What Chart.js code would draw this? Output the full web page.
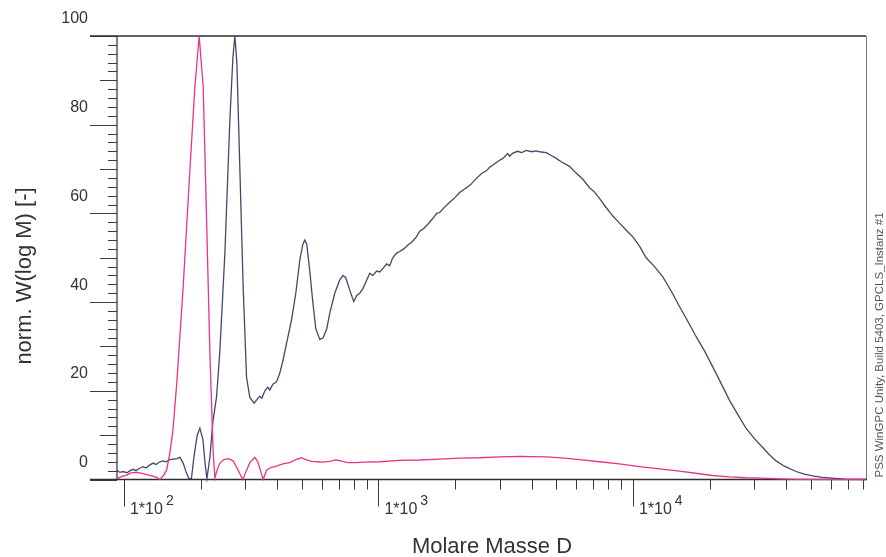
<!DOCTYPE html>
<html>
<head>
<meta charset="utf-8"/>
<title>Molmassenverteilung</title>
<script src="https://cdn.jsdelivr.net/npm/chart.js"></script>
<style>
  html, body { margin: 0; padding: 0; background: #fff; }
  canvas { display: block; }
</style>
</head>
<body>
<canvas id="mwdChart" width="886" height="557"></canvas>
<script>
// sample trace: molar mass (D) and normalised W(log M)
const sampleMass = [93.9, 96.4, 99.4, 102.8, 105.6, 108.8, 111.5, 115.6, 119.1, 122.0, 126.5, 130.3, 133.5, 138.5, 142.6, 146.2, 151.5, 156.1, 161.4, 165.9,
  170.9, 175.9, 180.0, 184.1, 188.3, 194.0, 198.8, 204.3, 208.9, 211.8, 217.6, 223.6, 231.2, 238.2, 249.2, 260.7, 267.9, 272.8, 277.8, 285.4,
  294.0, 303.2, 312.4, 324.8, 332.8, 341.9, 348.2, 357.8, 367.6, 374.3, 384.6, 397.7, 409.7, 422.1, 436.5, 455.4, 473.5, 490.9, 504.4, 513.6,
  523.0, 537.4, 552.2, 567.3, 588.2, 606.0, 626.6, 643.9, 673.6, 704.7, 726.1, 744.0, 771.4, 799.9, 821.8, 844.4, 870.0, 891.5, 924.3, 949.7,
  984.8, 1012, 1042, 1078, 1107, 1138, 1176, 1212, 1257, 1303, 1351, 1410, 1453, 1506, 1561, 1638, 1694, 1740, 1804, 1905,
  1993, 2085, 2216, 2304, 2426, 2545, 2655, 2735, 2862, 2994, 3085, 3219, 3277, 3377, 3523, 3653, 3812, 3999, 4146, 4298,
  4567, 4791, 4999, 5244, 5638, 5952, 6357, 6753, 7065, 7392, 7804, 8338, 8859, 9413, 9964, 10615, 11277, 12160, 13109, 14178,
  15242, 16385, 17727, 19107, 20594, 22281, 23942, 25740, 27860, 30026, 32361, 34385, 36528, 39369, 43770, 47193, 50862, 55524, 60782, 67718,
  81886];
const sampleW = [2.1, 1.6, 1.8, 1.5, 2.0, 2.3, 2.0, 2.6, 2.9, 2.6, 3.3, 3.7, 3.4, 4.0, 4.2, 4.0, 4.5, 4.6, 4.7, 5.0,
  3.7, 1.5, 0.2, 0.2, 5.0, 10.0, 11.6, 9.0, 3.0, 0.2, 5.0, 13.0, 18.7, 29, 51, 81, 95, 100, 94, 70,
  43.5, 23, 18.5, 17.2, 18.0, 18.8, 18.3, 20.0, 20.8, 20.2, 21.5, 22.0, 24.0, 27.0, 31.0, 36.0, 42.0, 49.5, 53, 54,
  53, 47, 40, 34, 31.6, 31.9, 34, 37.5, 42, 45, 46, 45.5, 42.7, 40.1, 41.5, 42, 43.1, 44.5, 46.5, 46.0,
  47.0, 46.8, 47.6, 48.6, 48.2, 50.0, 51.0, 51.4, 52.0, 52.8, 53.5, 54.7, 56.0, 56.6, 57.5, 58.9, 60.0, 60.2, 61.2, 62.5,
  63.5, 64.7, 65.8, 66.5, 67.9, 69.0, 69.6, 70.4, 71.2, 72.0, 72.4, 73.5, 72.9, 73.6, 74.0, 73.7, 74.2, 73.9, 74.1, 73.9,
  73.7, 73.0, 72.4, 71.6, 70.6, 69.2, 67.7, 65.8, 64.8, 63.4, 61.5, 59.4, 57.8, 56.2, 54.8, 52.6, 50.0, 48.0, 45.7, 42.4,
  39.0, 35.8, 32.2, 29.0, 25.4, 21.5, 17.9, 14.8, 11.5, 9.2, 7.2, 5.6, 4.2, 3.0, 1.8, 1.2, 0.8, 0.5, 0.3, 0.1,
  0.0];

// second trace (magenta)
const refMass = [93.9, 98.2, 102.5, 106.5, 112.2, 117.7, 122.8, 128.8, 134.4, 138.5, 142.6, 147.1, 151.5, 155.7, 161.4, 170.9, 181.6, 190.0, 197.5, 204.8,
  211.2, 217.6, 224.2, 227.7, 231.8, 238.2, 247.0, 256.8, 268.6, 281.0, 293.2, 302.7, 312.4, 326.8, 335.8, 341.9, 352.3, 363.3, 377.7, 397.7,
  421.0, 448.4, 473.5, 498.5, 518.3, 547.2, 577.7, 604.4, 643.9, 679.7, 711.1, 757.5, 819.6, 883.5, 1012, 1212, 1453, 1740, 2085, 2499,
  2994, 3588, 4567, 5388, 6170, 7392, 8859, 10615, 12724, 15242, 18263, 20539, 23942, 27860, 32273, 37635, 45093, 81886];
const refW = [0.2, 0.7, 1.0, 1.5, 1.6, 1.4, 1.1, 0.8, 0.5, 0.0, 0.8, 2.1, 6.0, 11.0, 22.0, 43.5, 69.8, 88.6, 100, 88.6,
  58.5, 28.5, 6.0, 0.3, 2.0, 3.7, 4.5, 4.7, 4.2, 2.1, 0.0, 2.0, 3.8, 5.0, 4.0, 2.5, 0.0, 2.1, 2.7, 3.0,
  3.5, 3.8, 4.5, 4.9, 4.5, 4.1, 4.0, 3.9, 4.1, 4.4, 4.2, 3.8, 3.8, 3.9, 4.0, 4.3, 4.4, 4.6, 4.8, 4.9,
  5.1, 5.2, 5.1, 4.8, 4.5, 4.0, 3.5, 2.9, 2.4, 1.9, 1.3, 0.9, 0.6, 0.4, 0.3, 0.15, 0.05, 0];

const yTicks = [0, 20, 40, 60, 80, 100];
const xDecades = [2, 3, 4];          // labelled ticks 1*10^n
const massRange = [93.9, 82400];
const yTitle = 'norm. W(log M) [-]';
const xTitle = 'Molare Masse D';
const footer = 'PSS WinGPC Unity, Build 5403, GPCLS_Instanz #1';

const FONT = '"Liberation Sans", Arial, Helvetica, sans-serif';

function toPoints(xs, ys) {
  return xs.map((m, i) => ({ x: m, y: ys[i] }));
}

// axes, ticks and labels drawn by hand so tick lengths can vary
const gpcAxes = {
  id: 'gpcAxes',
  beforeDatasetsDraw(chart) {
    const { ctx, chartArea: a, scales: { x, y } } = chart;
    const line = (x1, y1, x2, y2) => {
      ctx.beginPath(); ctx.moveTo(x1, y1); ctx.lineTo(x2, y2); ctx.stroke();
    };
    ctx.save();
    ctx.strokeStyle = '#3a3a3a';
    ctx.lineWidth = 1;

    // y ticks: minor every 2, medium every 10, long every 20
    for (let v = 0; v <= 100; v += 2) {
      const py = Math.round(y.getPixelForValue(v)) + 0.5;
      let len = 9;
      if (v % 20 === 0) len = 27;
      else if (v % 10 === 0) len = 17;
      line(a.left - len, py, a.left, py);
    }

    // x ticks at k*10^n
    for (let n = 1; n <= 4; n++) {
      for (let k = 1; k <= 9; k++) {
        const m = k * Math.pow(10, n);
        if (m < massRange[0] || m > massRange[1]) continue;
        const px = Math.round(x.getPixelForValue(m)) + 0.5;
        line(px, a.bottom, px, a.bottom + (k === 1 ? 27 : 10));
      }
    }

    // frame
    ctx.strokeStyle = '#777';
    line(a.right + 0.5, a.top, a.right + 0.5, a.bottom);
    ctx.strokeStyle = '#2e2e2e';
    ctx.lineWidth = 1.6;
    line(a.left - 27, a.top, a.right, a.top);
    line(a.left - 27, a.bottom, a.right + 1, a.bottom);
    ctx.lineWidth = 1.2;
    line(a.left, a.top, a.left, a.bottom);

    // y tick labels sit above their ticks
    ctx.fillStyle = '#333';
    ctx.font = '16px ' + FONT;
    ctx.textAlign = 'right';
    ctx.textBaseline = 'middle';
    yTicks.forEach(v => {
      ctx.fillText(String(v), a.left - 29, y.getPixelForValue(v) - 17);
    });

    // x tick labels 1*10^n
    ctx.textAlign = 'left';
    ctx.textBaseline = 'alphabetic';
    xDecades.forEach(n => {
      const px = x.getPixelForValue(Math.pow(10, n));
      ctx.font = '16px ' + FONT;
      const base = '1*10';
      ctx.fillText(base, px + 6, a.bottom + 34);
      const w = ctx.measureText(base).width;
      ctx.font = '14px ' + FONT;
      ctx.fillText(String(n), px + 9 + w, a.bottom + 25);
    });

    // axis titles
    ctx.font = '22px ' + FONT;
    ctx.textAlign = 'center';
    ctx.fillText(xTitle, 492, 553);
    ctx.save();
    ctx.translate(25, 276);
    ctx.rotate(-Math.PI / 2);
    ctx.textBaseline = 'middle';
    ctx.fillText(yTitle, 0, 0);
    ctx.restore();

    // program footer along the right edge
    ctx.save();
    ctx.fillStyle = '#555';
    ctx.font = '11.5px ' + FONT;
    ctx.translate(883, a.bottom - 2);
    ctx.rotate(-Math.PI / 2);
    ctx.textAlign = 'left';
    ctx.textBaseline = 'alphabetic';
    ctx.fillText(footer, 0, 0);
    ctx.restore();

    ctx.restore();
  }
};

const ctx = document.getElementById('mwdChart').getContext('2d');
new Chart(ctx, {
  type: 'line',
  data: {
    datasets: [
      {
        label: 'Referenz',
        data: toPoints(refMass, refW),
        borderColor: '#e6338b',
        borderWidth: 1.3,
        pointRadius: 0,
        tension: 0,
        clip: false
      },
      {
        label: 'Probe',
        data: toPoints(sampleMass, sampleW),
        borderColor: '#46466a',
        borderWidth: 1.3,
        pointRadius: 0,
        tension: 0,
        clip: false
      }
    ]
  },
  options: {
    responsive: false,
    animation: false,
    layout: { padding: { left: 117, right: 20, top: 36, bottom: 77.5 } },
    plugins: { legend: { display: false }, tooltip: { enabled: false } },
    scales: {
      x: { type: 'logarithmic', min: massRange[0], max: massRange[1], display: false },
      y: { type: 'linear', min: 0, max: 100, display: false }
    }
  },
  plugins: [gpcAxes]
});
</script>
</body>
</html>
